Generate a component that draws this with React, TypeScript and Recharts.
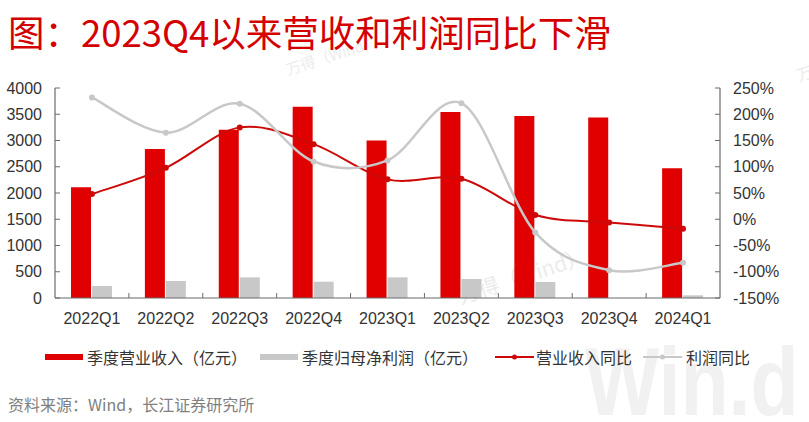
import React from 'react';
import { ComposedChart, Bar, Line, XAxis, YAxis } from 'recharts';

const categories = ['2022Q1', '2022Q2', '2022Q3', '2022Q4', '2023Q1', '2023Q2', '2023Q3', '2023Q4', '2024Q1'];
const revenue = [2110, 2840, 3205, 3645, 3000, 3545, 3465, 3440, 2470];
const netProfit = [228, 324, 394, 311, 394, 362, 305, 0, 51];
const revenueYoY = [48, 98, 175, 143, 76, 77, 8, -6, -18];
const profitYoY = [232, 165, 220, 110, 112, 221, -25, -97, -83];
const leftTicks = [0, 500, 1000, 1500, 2000, 2500, 3000, 3500, 4000];
const rightTicks = [-150, -100, -50, 0, 50, 100, 150, 200, 250];

const title = '图：2023Q4以来营收和利润同比下滑';
const source = '资料来源：Wind，长江证券研究所';
const legendNames = ['季度营业收入（亿元）', '季度归母净利润（亿元）', '营业收入同比', '利润同比'];

const data = categories.map((q, i) => ({
  q,
  revenue: revenue[i],
  netProfit: netProfit[i],
  revenueYoY: revenueYoY[i],
  profitYoY: profitYoY[i],
}));

const RED_BAR = '#E00000';
const RED_LINE = '#CC0A0A';
const GRAY_BAR = '#C8C8C8';
const GRAY_LINE = '#C8C8C8';
const AXIS = '#6b6b6b';
const TICK_FONT = '"Liberation Sans", Arial, sans-serif';
const CJK_FONT = '"Noto Sans CJK SC", "Noto Sans", sans-serif';

// Excel-like smoothed line (Catmull-Rom style bezier through every point)
function excelSmooth(context: any) {
  let pts: number[][] = [];
  return {
    areaStart() {},
    areaEnd() {},
    lineStart() {
      pts = [];
    },
    point(x: number, y: number) {
      pts.push([+x, +y]);
    },
    lineEnd() {
      const n = pts.length;
      if (!n) return;
      context.moveTo(pts[0][0], pts[0][1]);
      for (let i = 0; i < n - 1; i++) {
        const p0 = pts[i > 0 ? i - 1 : i];
        const p1 = pts[i];
        const p2 = pts[i + 1];
        const p3 = pts[i + 2 < n ? i + 2 : i + 1];
        context.bezierCurveTo(
          p1[0] + (p2[0] - p0[0]) / 6,
          p1[1] + (p2[1] - p0[1]) / 6,
          p2[0] - (p3[0] - p1[0]) / 6,
          p2[1] - (p3[1] - p1[1]) / 6,
          p2[0],
          p2[1]
        );
      }
    },
  };
}

const XTick = (props: any) => {
  const { x, y, payload, index } = props;
  const half = payload && payload.offset ? payload.offset : 0;
  return (
    <g>
      {index < categories.length - 1 && (
        <line x1={x + half} x2={x + half} y1={y} y2={y - 5} stroke={AXIS} strokeWidth={1} />
      )}
      <text x={x} y={y + 26} textAnchor="middle" fontSize={16} fill="#333" fontFamily={TICK_FONT}>
        {payload.value}
      </text>
    </g>
  );
};

const LegendBar = ({ color, left }: { color: string; left: number }) => (
  <div style={{ position: 'absolute', left, top: 8, width: 38, height: 6, background: color }} />
);
const LegendLine = ({ color, left }: { color: string; left: number }) => (
  <svg width={39} height={10} style={{ position: 'absolute', left, top: 6 }}>
    <line x1={0} x2={39} y1={5} y2={5} stroke={color} strokeWidth={2} />
    <circle cx={19.5} cy={5} r={2.5} fill={color} />
  </svg>
);
const LegendText = ({ text, left }: { text: string; left: number }) => (
  <span style={{ position: 'absolute', left, top: 0, lineHeight: '22px', whiteSpace: 'nowrap' }}>{text}</span>
);

export default function App() {
  return (
    <div
      style={{
        position: 'absolute',
        left: 0,
        top: 0,
        width: 809,
        height: 422,
        background: '#fff',
        overflow: 'hidden',
      }}
    >
      {/* watermarks */}
      <div
        style={{
          position: 'absolute',
          left: 585,
          top: 334,
          fontFamily: TICK_FONT,
          fontWeight: 700,
          fontSize: 96,
          color: '#f1f1f1',
          lineHeight: 1,
          transform: 'scaleX(0.82)',
          transformOrigin: 'left top',
          whiteSpace: 'nowrap',
        }}
      >
        Win.d
      </div>
      <div
        style={{
          position: 'absolute',
          left: 284,
          top: 44,
          fontFamily: CJK_FONT,
          fontSize: 15,
          color: '#ececec',
          transform: 'rotate(-18deg)',
          whiteSpace: 'nowrap',
        }}
      >
        万得（Wind）
      </div>
      <div
        style={{
          position: 'absolute',
          left: 455,
          top: 260,
          fontFamily: CJK_FONT,
          fontSize: 21,
          color: '#ebebeb',
          transform: 'rotate(-18deg)',
          whiteSpace: 'nowrap',
        }}
      >
        万得（Wind）
      </div>
      <div
        style={{
          position: 'absolute',
          left: 796,
          top: 58,
          fontFamily: CJK_FONT,
          fontSize: 16,
          color: '#ececec',
          transform: 'rotate(-18deg)',
          whiteSpace: 'nowrap',
        }}
      >
        万得
      </div>

      <div
        style={{
          position: 'absolute',
          left: 8,
          top: 14,
          fontFamily: CJK_FONT,
          fontSize: 36.5,
          lineHeight: 1,
          color: '#D40000',
          whiteSpace: 'nowrap',
        }}
      >
        {title}
      </div>

      <div style={{ position: 'absolute', left: 0, top: 0 }}>
        <ComposedChart
          width={809}
          height={422}
          data={data}
          margin={{ top: 88, right: 0, bottom: 94, left: 0 }}
          barGap={1}
        >
          <XAxis
            dataKey="q"
            xAxisId="x"
            height={30}
            tickLine={false}
            tickSize={0}
            tickMargin={0}
            axisLine={{ stroke: AXIS, strokeWidth: 1.2 }}
            tick={<XTick />}
            interval={0}
          />
          <YAxis
            yAxisId="left"
            orientation="left"
            width={55}
            domain={[0, 4000]}
            ticks={leftTicks}
            interval={0}
            tickSize={-5}
            tickMargin={18}
            axisLine={{ stroke: AXIS, strokeWidth: 1.2 }}
            tickLine={{ stroke: AXIS }}
            tick={{ fontSize: 16, fill: '#333', fontFamily: TICK_FONT }}
          />
          <YAxis
            yAxisId="right"
            orientation="right"
            width={89}
            domain={[-150, 250]}
            ticks={rightTicks}
            interval={0}
            tickSize={-5}
            tickMargin={18}
            tickFormatter={(v: number) => `${v}%`}
            axisLine={{ stroke: AXIS, strokeWidth: 1.2 }}
            tickLine={{ stroke: AXIS }}
            tick={{ fontSize: 16, fill: '#333', fontFamily: TICK_FONT }}
          />
          <Bar
            dataKey="revenue"
            xAxisId="x"
            yAxisId="left"
            fill={RED_BAR}
            barSize={20}
            isAnimationActive={false}
          />
          <Bar
            dataKey="netProfit"
            xAxisId="x"
            yAxisId="left"
            fill={GRAY_BAR}
            barSize={20}
            isAnimationActive={false}
          />
          <Line
            dataKey="revenueYoY"
            xAxisId="x"
            yAxisId="right"
            type={excelSmooth as any}
            stroke={RED_LINE}
            strokeWidth={2}
            dot={{ r: 3, fill: RED_LINE, stroke: RED_LINE, strokeWidth: 0 }}
            activeDot={false}
            isAnimationActive={false}
          />
          <Line
            dataKey="profitYoY"
            xAxisId="x"
            yAxisId="right"
            type={excelSmooth as any}
            stroke={GRAY_LINE}
            strokeWidth={2.5}
            dot={{ r: 3, fill: GRAY_LINE, stroke: GRAY_LINE, strokeWidth: 0 }}
            activeDot={false}
            isAnimationActive={false}
          />
        </ComposedChart>
      </div>

      <div
        style={{
          position: 'absolute',
          left: 0,
          top: 346,
          width: 809,
          height: 22,
          fontFamily: CJK_FONT,
          fontSize: 16,
          color: '#333',
        }}
      >
        <LegendBar color={RED_BAR} left={45} />
        <LegendText text={legendNames[0]} left={87} />
        <LegendBar color={GRAY_BAR} left={260} />
        <LegendText text={legendNames[1]} left={302} />
        <LegendLine color={RED_LINE} left={495} />
        <LegendText text={legendNames[2]} left={536} />
        <LegendLine color={GRAY_LINE} left={643} />
        <LegendText text={legendNames[3]} left={686} />
      </div>

      <div
        style={{
          position: 'absolute',
          left: 8,
          top: 396,
          fontFamily: CJK_FONT,
          fontSize: 16,
          lineHeight: 1,
          color: '#808080',
          whiteSpace: 'nowrap',
        }}
      >
        {source}
      </div>
    </div>
  );
}
